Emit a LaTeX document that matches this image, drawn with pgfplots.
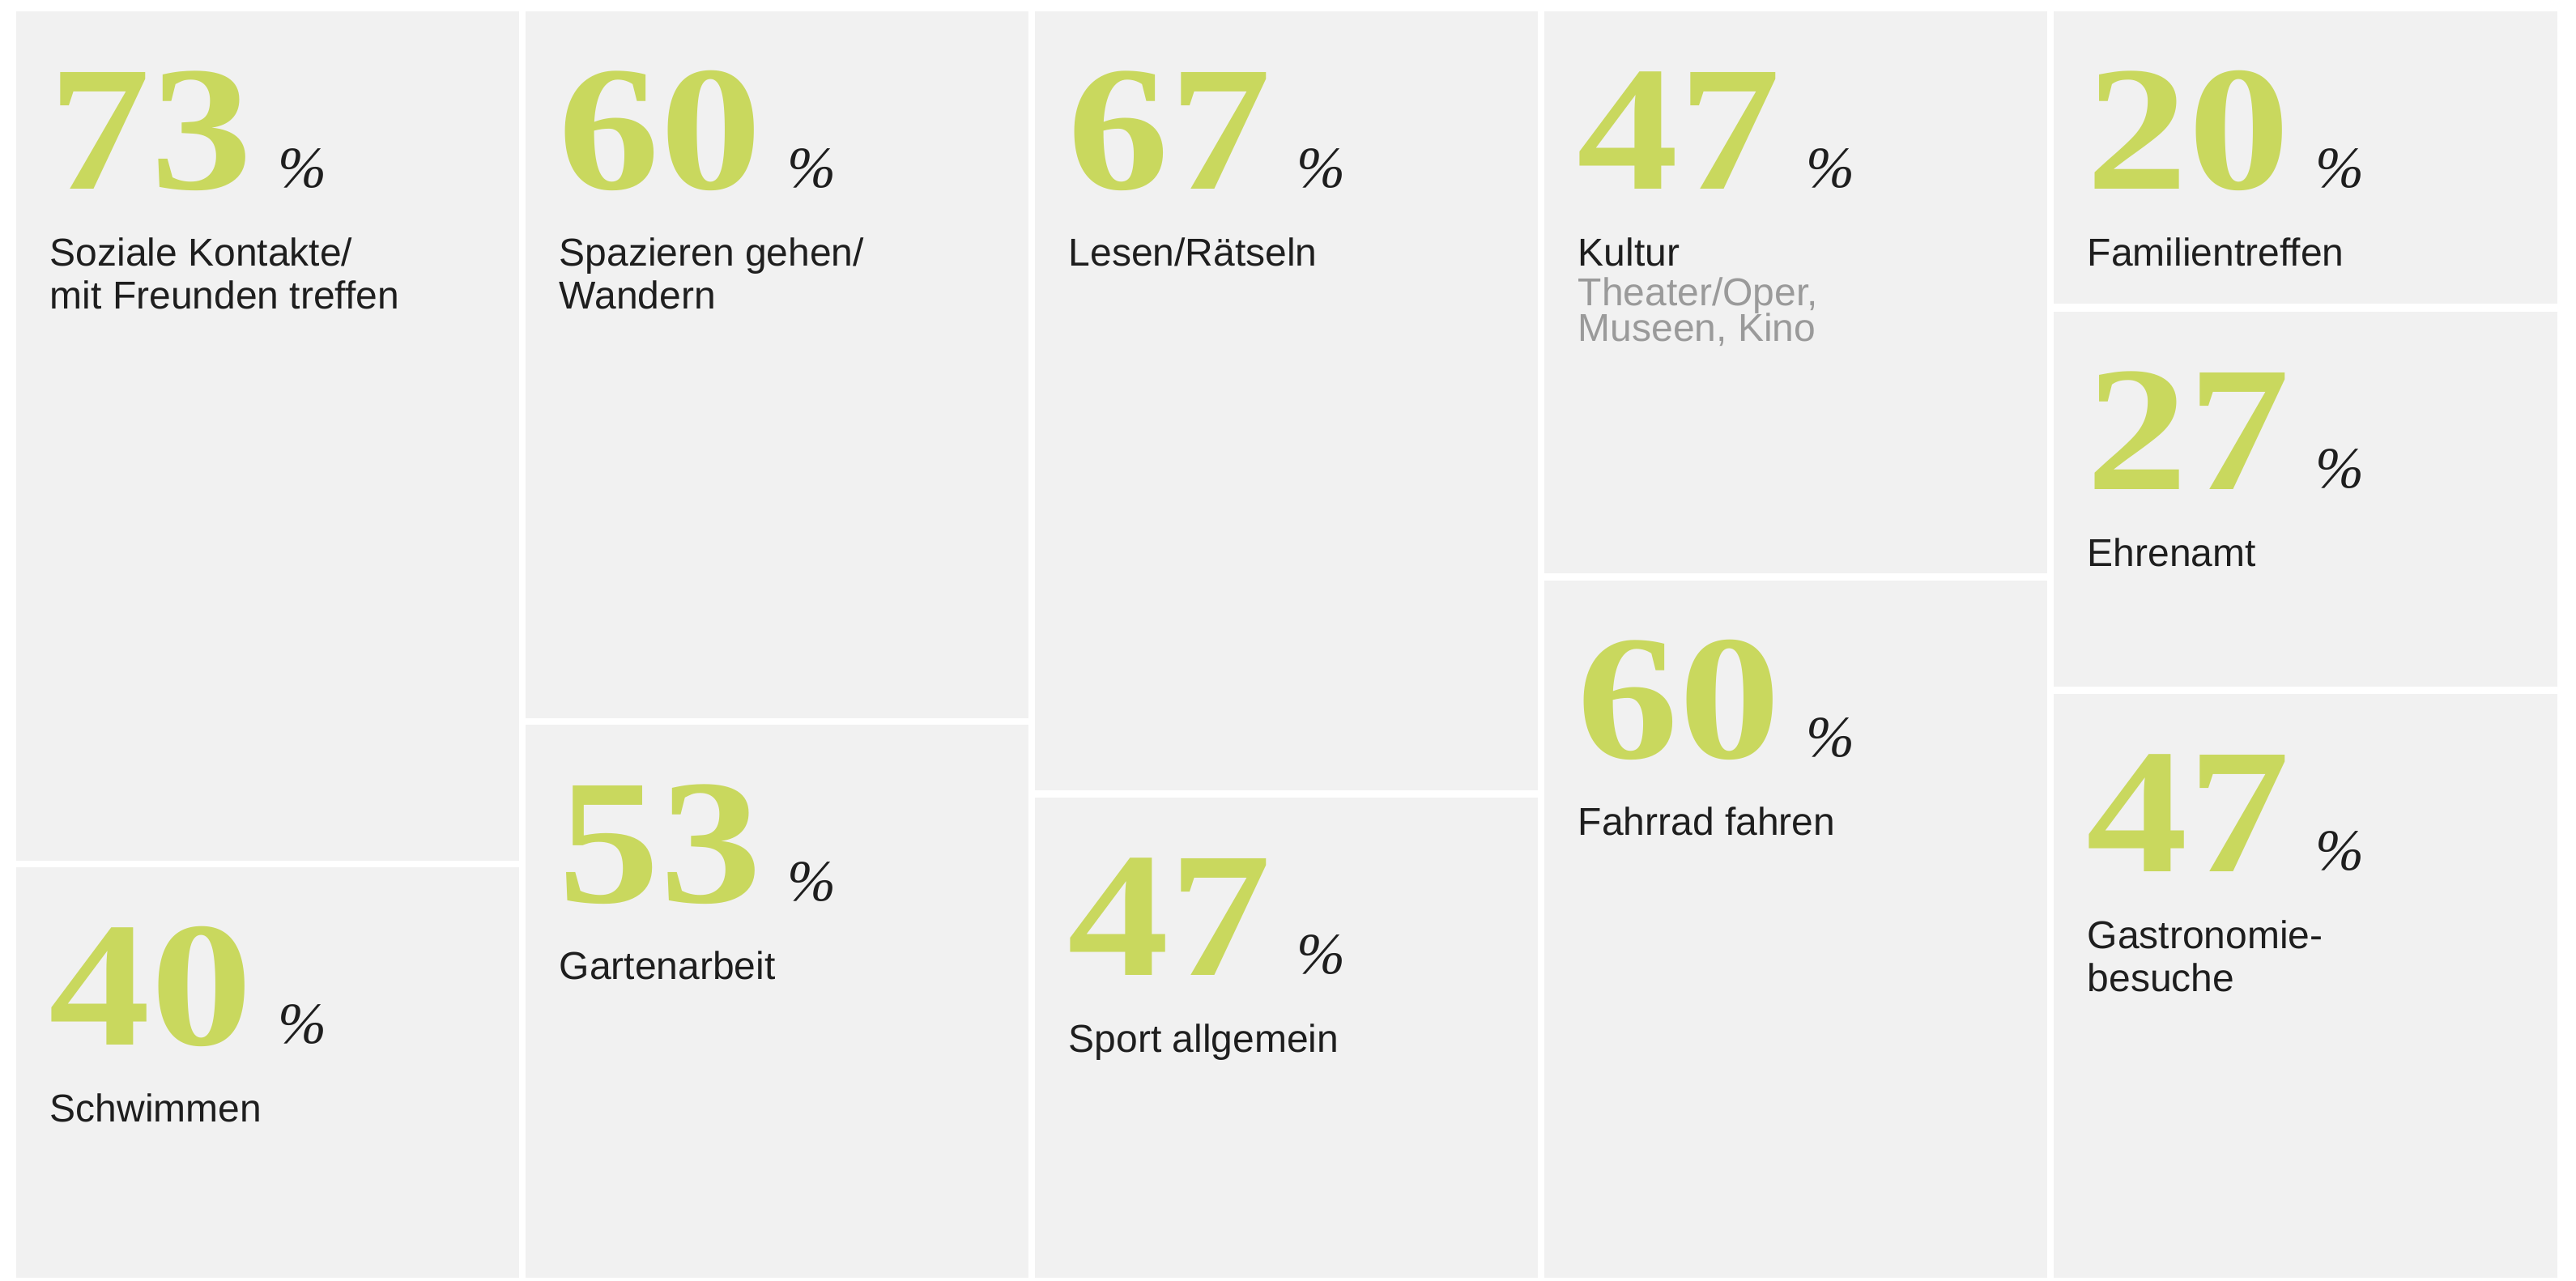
\documentclass[border=0pt]{standalone}
\usepackage{fontspec}
\usepackage{pgfplots}
\pgfplotsset{compat=1.18}
\setmainfont{Liberation Sans}
\newfontfamily\serif{Liberation Serif}
\newfontfamily\numfam{Liberation Serif}[FakeStretch=1.14]
\definecolor{tile}{HTML}{F1F1F1}
\definecolor{num}{HTML}{C9D85E}
\definecolor{ink}{HTML}{1E1E1E}
\definecolor{sub}{HTML}{9A9A9A}
\newcommand\numstyle{\numfam\bfseries\fontsize{55pt}{55pt}\selectfont\color{num}}
\newcommand\pctstyle{\serif\mdseries\itshape\fontsize{18pt}{18pt}\selectfont\color{ink}}
\newcommand\labstyle{\fontsize{12pt}{14pt}\selectfont}
% #1 x1, #2 y1, #3 x2, #4 y2 (pixel units, y downwards), #5 value, #6 label
\newcommand\tile[6]{%
  \addplot[fill=tile, draw=none] coordinates {(#1,#2) (#3,#2) (#3,#4) (#1,#4)};
  \node[anchor=base west, inner sep=0pt, xshift=10pt, yshift=-54.75pt] at (axis cs:#1,#2)
     {\numstyle #5\kern8pt{\pctstyle\raisebox{0.5pt}{\%}}};
  \node[anchor=base west, inner sep=0pt, xshift=10.25pt, yshift=-78.5pt, font=\labstyle, text=ink] at (axis cs:#1,#2) {#6};
}
% extra label line: #1 x1, #2 y1, #3 yshift, #4 colour, #5 text
\newcommand\labline[5]{%
  \node[anchor=base west, inner sep=0pt, xshift=10.25pt, yshift=#3, font=\labstyle, text=#4] at (axis cs:#1,#2) {#5};
}
\begin{document}
\begin{tikzpicture}
\begin{axis}[
  width=795.25pt, height=395.5pt, scale only axis,
  xmin=0, xmax=3181, ymin=0, ymax=1582, y dir=reverse,
  hide axis, clip=false]
\addplot[fill=white, draw=none] coordinates {(0,0) (3181,0) (3181,1582) (0,1582)};
\tile{20}{14}{641}{1063}{73}{Soziale Kontakte/}
\labline{20}{14}{-91.75pt}{ink}{mit Freunden treffen}
\tile{20}{1071}{641}{1578}{40}{Schwimmen}
\tile{649}{14}{1270}{887}{60}{Spazieren gehen/}
\labline{649}{14}{-91.75pt}{ink}{Wandern}
\tile{649}{895}{1270}{1578}{53}{Gartenarbeit}
\tile{1278}{14}{1899}{976}{67}{Lesen/Rätseln}
\tile{1278}{985}{1899}{1578}{47}{Sport allgemein}
\tile{1907}{14}{2528}{708}{47}{Kultur}
\labline{1907}{14}{-90.75pt}{sub}{Theater/Oper,}
\labline{1907}{14}{-101.75pt}{sub}{Museen, Kino}
\tile{1907}{717}{2528}{1578}{60}{Fahrrad fahren}
\tile{2536}{14}{3158}{375}{20}{Familientreffen}
\tile{2536}{385}{3158}{848}{27}{Ehrenamt}
\tile{2536}{857}{3158}{1578}{47}{Gastronomie-}
\labline{2536}{857}{-91.75pt}{ink}{besuche}
\end{axis}
\end{tikzpicture}
\end{document}
